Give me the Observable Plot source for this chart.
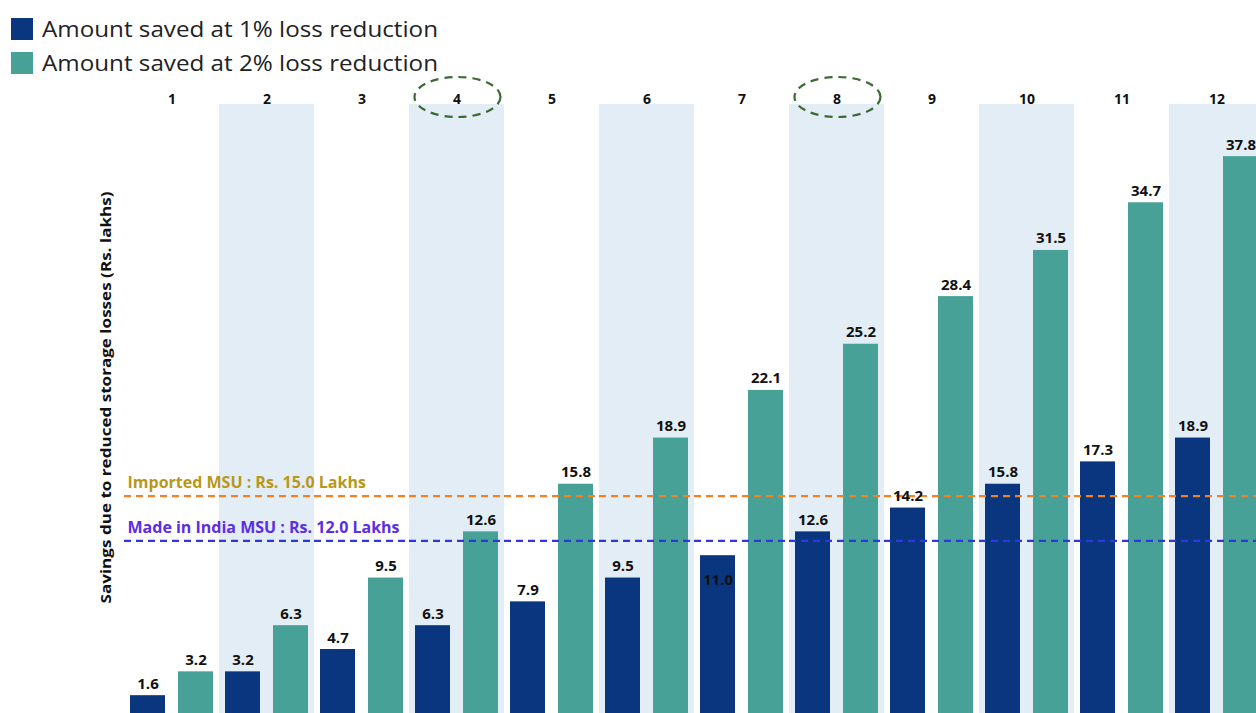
<!DOCTYPE html>
<html>
<head>
<meta charset="utf-8">
<script src="https://cdn.jsdelivr.net/npm/d3@7"></script>
<script src="https://cdn.jsdelivr.net/npm/@observablehq/plot@0.6"></script>
<style>
html, body { margin: 0; padding: 0; background: #fff; overflow: hidden; width: 1256px; height: 713px; }
#wrap { position: relative; width: 1256px; height: 713px; overflow: hidden; }
#chart { position: absolute; left: 0; top: 0; width: 1264px; }
#chart svg { max-width: none !important; }
#legend { position: absolute; left: 11px; top: 12px; font-family: "Open Sans", "Noto Sans", sans-serif; font-size: 21px; color: #222; }
.item { display: flex; align-items: center; height: 34px; white-space: nowrap; }
.sw { width: 22px; height: 22px; margin-right: 9px; flex: none; }
.lt { display: inline-block; transform-origin: 0 50%; }
</style>
</head>
<body>
<div id="wrap">
  <div id="chart"></div>
  <div id="legend"></div>
</div>
<script>
// ---- data ----
const categories = [1, 2, 3, 4, 5, 6, 7, 8, 9, 10, 11, 12];
const seriesKeys = ["1%", "2%"];
const seriesNames = ["Amount saved at 1% loss reduction", "Amount saved at 2% loss reduction"];
const seriesColors = ["#0a3680", "#48a196"];
const savings1 = [1.6, 3.2, 4.7, 6.3, 7.9, 9.5, 11.0, 12.6, 14.2, 15.8, 17.3, 18.9];
const savings2 = [3.2, 6.3, 9.5, 12.6, 15.8, 18.9, 22.1, 25.2, 28.4, 31.5, 34.7, 37.8];
const shadedCategories = [2, 4, 6, 8, 10, 12];
const circledCategories = [4, 8];
const refValues = [15.0, 12.0];
const refLabels = ["Imported MSU : Rs. 15.0 Lakhs", "Made in India MSU : Rs. 12.0 Lakhs"];
const refLineColors = ["#f4811f", "#2f35e0"];
const refTextColors = ["#b8971c", "#5b2de3"];
const insideLabel = {cat: 7, series: "1%"};
const yLabel = "Savings due to reduced storage losses (Rs. lakhs)";
const yMax = 41.3;

const rows = categories.flatMap((c, i) => [
  {cat: c, series: seriesKeys[0], value: savings1[i]},
  {cat: c, series: seriesKeys[1], value: savings2[i]}
]);
const isInside = d => d.cat === insideLabel.cat && d.series === insideLabel.series;

const labelStyle = {fontWeight: "bold", fontSize: 15, fill: "#111"};

const marks = [
  Plot.barY(shadedCategories, {fx: d => d, y1: 0, y2: yMax, fill: "#e3edf5"}),
  Plot.barY(rows, {fx: "cat", x: "series", y: "value", fill: "series"})
];
refValues.forEach((v, i) => {
  marks.push(Plot.ruleY([v], {stroke: refLineColors[i], strokeWidth: 2.2, strokeDasharray: "7 5"}));
  marks.push(Plot.text([refLabels[i]], {fx: () => categories[0], y: () => v, text: d => d, frameAnchor: "left", textAnchor: "start", lineAnchor: "bottom", dx: 3, dy: -8, fill: refTextColors[i], fontWeight: "bold", fontSize: 16}));
});
marks.push(
  Plot.text(categories, {fx: d => d, text: d => String(d), frameAnchor: "top", lineAnchor: "bottom", dy: -1, fontWeight: "bold", fontSize: 14, fill: "#111"}),
  Plot.text(rows.filter(d => !isInside(d)), {fx: "cat", x: "series", y: "value", text: d => d.value.toFixed(1), lineAnchor: "bottom", dy: -7, ...labelStyle}),
  Plot.text(rows.filter(isInside), {fx: "cat", x: "series", y: "value", text: d => d.value.toFixed(1), lineAnchor: "top", dy: 19, ...labelStyle})
);

const plot = Plot.plot({
  width: 1264,
  height: 719,
  marginLeft: 124,
  marginRight: 0,
  marginTop: 104,
  marginBottom: 0,
  style: {fontFamily: "'Open Sans', 'Noto Sans', sans-serif", background: "transparent", overflow: "visible", maxWidth: "none"},
  fx: {domain: categories, padding: 0, axis: null, label: null},
  x: {domain: seriesKeys, paddingInner: 13 / 48, paddingOuter: 6 / 48, axis: null},
  y: {domain: [0, yMax], axis: null},
  color: {domain: seriesKeys, range: seriesColors},
  marks
});
document.getElementById("chart").appendChild(plot);

const svgEl = plot.tagName.toLowerCase() === "svg" ? plot : plot.querySelector("svg");
svgEl.style.maxWidth = "none";
const svg = d3.select(svgEl);

// y-axis title
const yScaleOpts = plot.scale("y");
svg.append("text")
  .attr("transform", `translate(111,${(yScaleOpts.range[0] + yScaleOpts.range[1]) / 2 - 14}) rotate(-90)`)
  .attr("text-anchor", "middle")
  .attr("font-family", "'Open Sans', 'Noto Sans', sans-serif")
  .attr("font-weight", "bold")
  .attr("font-size", 13.5)
  .attr("fill", "#111")
  .attr("textLength", 412)
  .attr("lengthAdjust", "spacingAndGlyphs")
  .text(yLabel);

// dashed ellipses around circled category labels
const fxOpts = plot.scale("fx");
const fxScale = d3.scaleBand().domain(fxOpts.domain).range(fxOpts.range)
  .paddingInner(fxOpts.paddingInner ?? 0).paddingOuter(fxOpts.paddingOuter ?? 0).align(fxOpts.align ?? 0.5);
circledCategories.forEach(c => {
  svg.append("ellipse")
    .attr("cx", fxScale(c) + fxScale.bandwidth() / 2 + 1)
    .attr("cy", 97)
    .attr("rx", 43)
    .attr("ry", 20)
    .attr("fill", "none")
    .attr("stroke", "#3b6b33")
    .attr("stroke-width", 2.2)
    .attr("stroke-dasharray", "8 6");
});

// legend
const legend = document.getElementById("legend");
seriesNames.forEach((name, i) => {
  const item = document.createElement("div");
  item.className = "item";
  const sw = document.createElement("div");
  sw.className = "sw";
  sw.style.background = seriesColors[i];
  const t = document.createElement("span");
  t.className = "lt";
  t.textContent = name;
  item.appendChild(sw);
  item.appendChild(t);
  legend.appendChild(item);
  const w = t.getBoundingClientRect().width;
  if (w > 0) t.style.transform = `scaleX(${396 / w})`;
});
</script>
</body>
</html>
